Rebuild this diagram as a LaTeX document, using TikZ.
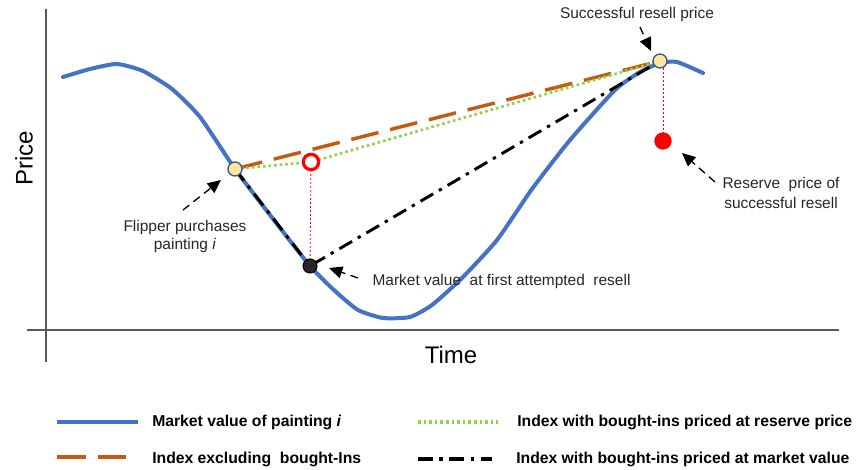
\documentclass[tikz,border=0pt]{standalone}
\usepackage{fontspec}
\setmainfont{Liberation Sans}
\usetikzlibrary{arrows.meta}
\definecolor{mblue}{HTML}{4472C4}
\definecolor{morange}{HTML}{C55A11}
\definecolor{mgreen}{HTML}{92D050}
\definecolor{mred}{HTML}{FF0000}
\definecolor{mcream}{HTML}{FFE699}
\definecolor{mdarkblue}{HTML}{2F5597}
\definecolor{maxis}{HTML}{595959}
\tikzset{
  market/.style={mblue, line width=3pt, line join=round, line cap=round},
  excl/.style={morange, line width=2.6pt, dash pattern=on 21pt off 9pt},
  reserve/.style={mgreen, line width=2pt, dash pattern=on 2pt off 2.2pt},
  mval/.style={black, line width=2.2pt, dash pattern=on 11pt off 5pt on 2.5pt off 5pt},
  guide/.style={mred, line width=0.6pt, dash pattern=on 1.5pt off 1.5pt},
  axisline/.style={maxis, line width=1pt},
  saledot/.style={circle, draw=mdarkblue, fill=mcream, line width=1pt, minimum size=10.5pt, inner sep=0pt},
  blackdot/.style={circle, draw=black, fill=black!85, line width=0.8pt, minimum size=10.5pt, inner sep=0pt},
  redring/.style={circle, draw=mred, fill=white, line width=2.4pt, minimum size=11.5pt, inner sep=0pt},
  reddot/.style={circle, fill=mred, minimum size=13pt, inner sep=0pt},
  callout/.style={black, line width=1pt, dash pattern=on 6pt off 4pt, -{Triangle[length=10pt,width=9pt]}},
  lab/.style={font=\fontsize{11.6}{15}\selectfont, text=black!85, align=center, inner sep=1pt},
  leg/.style={font=\fontsize{11.8}{14}\selectfont\bfseries, anchor=west, inner sep=0pt},
}
\begin{document}
\begin{tikzpicture}[x=0.75pt,y=-0.75pt]
\useasboundingbox (0,0) rectangle (857,470);
% axes
\draw[axisline] (46,9) -- (46,362);
\draw[axisline] (27,330) -- (839,330);
\node[rotate=90, font=\fontsize{18}{20}\selectfont] (price) at (24,158) {Price};
\node[font=\fontsize{18}{20}\selectfont] (time) at (451,355) {Time};
% market value curve
\draw[market] plot[smooth, tension=0.35] coordinates {(63,77) (90,69) (117,64) (143,71) (172,89) (200,117) (235,169) (270,215) (310,266) (335,291) (358,310) (383,318) (410,317) (432,305) (462,278) (497,240) (532,189) (570,140) (615,90) (640,72) (660,63) (677,62) (703,73)};
% markers positions
\coordinate (buy) at (235,169);
\coordinate (first) at (310,266);
\coordinate (ring) at (311,162);
\coordinate (sell) at (660,61);
\coordinate (res) at (663,141);
% index lines
\draw[excl] (buy) -- (sell);
\draw[reserve] (buy) -- (ring.center) -- (sell);
\draw[mval] (buy) -- (first) -- (sell);
% guides
\draw[guide] (ring) -- (first);
\draw[guide] (663,68) -- (res);
% markers
\node[saledot] (nbuy) at (buy) {};
\node[redring] (nring) at (ring) {};
\node[blackdot] (nfirst) at (first) {};
\node[saledot] (nsell) at (sell) {};
\node[reddot] (nres) at (res) {};
% labels
\node[lab, font=\fontsize{11.6}{13.5}\selectfont] (lbuy) at (185,237) {Flipper purchases\\painting \textit{i}};
\node[lab, anchor=west] (lfirst) at (371,282) {Market value\ \ at first attempted\ \ resell};
\node[lab] (lsell) at (637,15) {Successful resell price};
\node[lab] (lres) at (781,193) {Reserve\ \ price of\\successful resell};
% callouts
\coordinate (a1s) at (183,210); \coordinate (a1e) at (221,180);
\coordinate (a2s) at (358,278); \coordinate (a2e) at (329,268);
\coordinate (a3s) at (640,27);  \coordinate (a3e) at (651,51);
\coordinate (a4s) at (715,182); \coordinate (a4e) at (682,153);
\draw[callout] (a1s) -- (a1e);
\draw[callout] (a2s) -- (a2e);
\draw[callout] (a3s) -- (a3e);
\draw[callout] (a4s) -- (a4e);
% legend
\coordinate (l1a) at (57,422); \coordinate (l1b) at (138,422);
\coordinate (l2a) at (57,457); \coordinate (l2b) at (128,457);
\coordinate (l3a) at (418,422); \coordinate (l3b) at (498,422);
\coordinate (l4a) at (418,459); \coordinate (l4b) at (492,459);
\draw[market, line cap=butt] (l1a) -- (l1b);
\draw[excl, dash pattern=on 21.5pt off 9pt] (l2a) -- (l2b);
\draw[reserve, line width=2.4pt] (l3a) -- (l3b);
\draw[mval, line width=2.6pt] (l4a) -- (l4b);
\node[leg] (t1) at (152,422) {Market value of painting \textit{i}};
\node[leg] (t2) at (152,459) {Index excluding\ \ bought-Ins};
\node[leg] (t3) at (517,422) {Index with bought-ins priced at reserve price};
\node[leg] (t4) at (516,459) {Index with bought-ins priced at market value};
\end{tikzpicture}
\end{document}
